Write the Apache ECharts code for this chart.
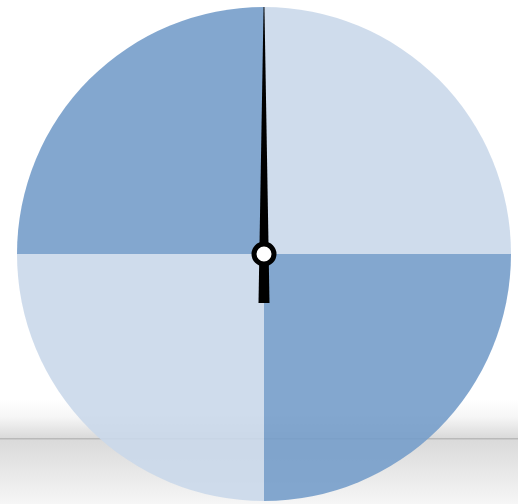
<!DOCTYPE html>
<html>
<head>
<meta charset="utf-8">
<script src="https://cdn.jsdelivr.net/npm/echarts@6/dist/echarts.min.js"></script>
<style>
  html, body { margin: 0; padding: 0; background: #ffffff; }
  #chart { width: 518px; height: 504px; }
</style>
</head>
<body>
<div id="chart"></div>
<script>
// Four equal quadrants of the dial, clockwise from 12 o'clock
const sectorNames = ['Q1', 'Q2', 'Q3', 'Q4'];
const sectorValues = [25, 25, 25, 25];
const sectorColors = ['rgba(202,216,234,0.9)', 'rgba(118,157,202,0.9)', 'rgba(202,216,234,0.9)', 'rgba(118,157,202,0.9)'];

// Needle reading on a 0–100 dial that starts at 12 o'clock
const needleMin = 0;
const needleMax = 100;
const needleValue = 0;

const chart = echarts.init(document.getElementById('chart'), null, { renderer: 'canvas' });

const cx = 264, cy = 254, r = 247;

chart.setOption({
  animation: false,
  backgroundColor: '#ffffff',
  graphic: [
    {
      type: 'rect', z: -10, silent: true,
      shape: { x: 0, y: 400, width: 518, height: 38 },
      style: {
        fill: new echarts.graphic.LinearGradient(0, 0, 0, 1, [
          { offset: 0, color: '#ffffff' },
          { offset: 0.45, color: '#f6f6f6' },
          { offset: 1, color: '#dadada' }
        ])
      }
    },
    {
      type: 'rect', z: -10, silent: true,
      shape: { x: 0, y: 438, width: 518, height: 66 },
      style: {
        fill: new echarts.graphic.LinearGradient(0, 0, 0, 1, [
          { offset: 0, color: '#d9d9d9' },
          { offset: 1, color: '#f6f6f6' }
        ])
      }
    },
    {
      type: 'rect', z: -9, silent: true,
      shape: { x: 0, y: 438, width: 518, height: 1.5 },
      style: { fill: '#b9b9b9' }
    }
  ],
  series: [
    {
      type: 'pie',
      center: [cx, cy],
      radius: [0, r],
      startAngle: 90,
      clockwise: true,
      silent: true,
      label: { show: false },
      labelLine: { show: false },
      emphasis: { disabled: true },
      data: sectorNames.map((n, i) => ({
        name: n,
        value: sectorValues[i],
        itemStyle: { color: sectorColors[i] }
      }))
    },
    {
      type: 'gauge',
      center: [cx, cy],
      radius: r,
      startAngle: 90,
      endAngle: -270,
      min: needleMin,
      max: needleMax,
      z: 5,
      axisLine: { show: false },
      splitLine: { show: false },
      axisTick: { show: false },
      axisLabel: { show: false },
      title: { show: false },
      detail: { show: false },
      pointer: {
        show: true,
        icon: 'path://M4.6,0 L5.4,0 L10,100 L0,100 Z',
        length: 296,
        width: 11,
        offsetCenter: [0, 49],
        itemStyle: { color: '#000000' }
      },
      anchor: {
        show: true,
        showAbove: true,
        size: 20,
        itemStyle: { color: '#ffffff', borderColor: '#000000', borderWidth: 5 }
      },
      data: [{ value: needleValue }]
    }
  ]
});
</script>
</body>
</html>
